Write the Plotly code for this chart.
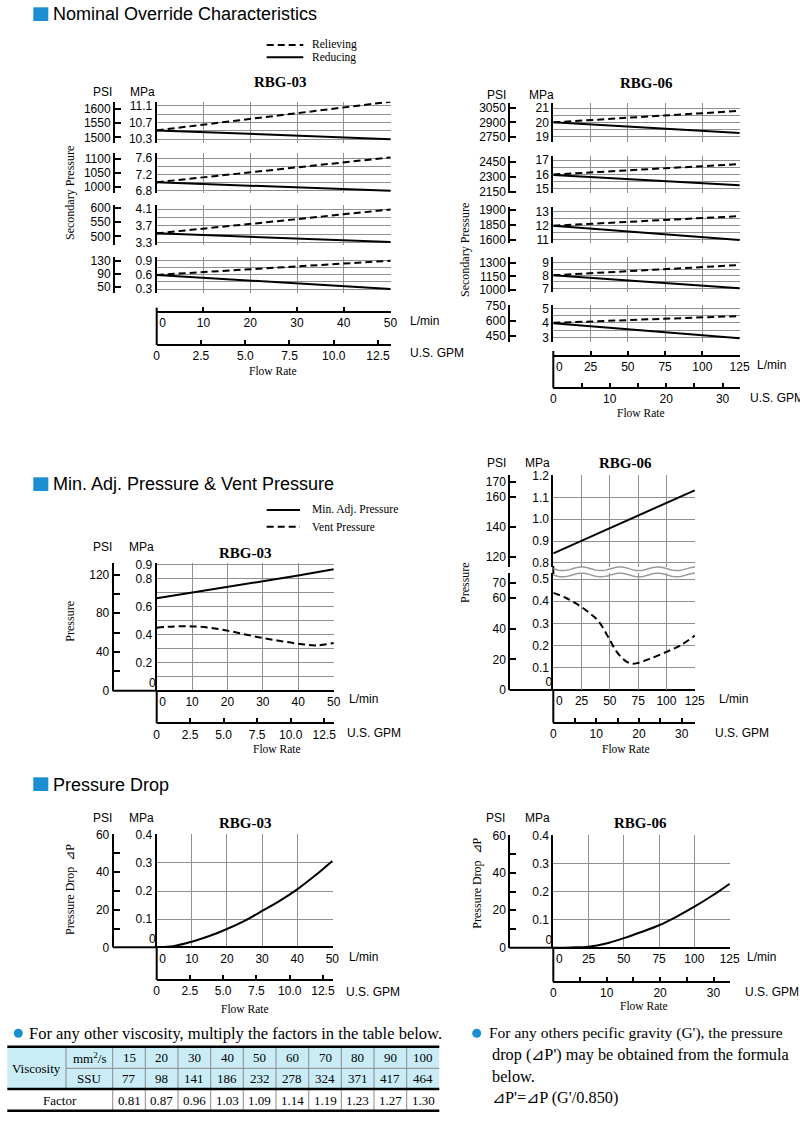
import numpy as np
import plotly.graph_objects as go

W, H = 800, 1131
PSI_PER_MPA = 145.038
LPM_PER_GPM = 3.78541

SANS = "Liberation Sans, Arial, sans-serif"
SERIF = "Liberation Serif, Times New Roman, serif"
BLUE = "#1b8fd2"
GRID = "#8f8f8f"
CYAN = "#c9ecf6"


def X(p):
    return p / W


def Y(p):
    return 1 - p / H


# ---------------- DATA ----------------
# Nominal override characteristics RBG-03 (MPa vs L/min), 4 pressure settings
no03_flow = [0, 10, 20, 30, 40, 50]
no03_relieving_1 = [10.51, 10.65, 10.79, 10.93, 11.06, 11.20]
no03_reducing_1 = [10.51, 10.47, 10.43, 10.38, 10.34, 10.30]
no03_relieving_2 = [7.01, 7.13, 7.25, 7.38, 7.50, 7.62]
no03_reducing_2 = [7.01, 6.97, 6.93, 6.88, 6.84, 6.80]
no03_relieving_3 = [3.52, 3.63, 3.75, 3.86, 3.98, 4.09]
no03_reducing_3 = [3.52, 3.48, 3.44, 3.39, 3.35, 3.31]
no03_relieving_4 = [0.60, 0.66, 0.72, 0.78, 0.84, 0.90]
no03_reducing_4 = [0.60, 0.54, 0.48, 0.42, 0.36, 0.30]
no03_grid = [[10.3, 10.5, 10.7, 10.9, 11.1], [6.8, 7.0, 7.2, 7.4, 7.6],
             [3.3, 3.5, 3.7, 3.9, 4.1], [0.3, 0.45, 0.6, 0.75, 0.9]]
no03_psi = [[1500, 1550, 1600], [1000, 1050, 1100], [500, 550, 600], [50, 90, 130]]

# Nominal override characteristics RBG-06, 5 pressure settings
no06_flow = [0, 25, 50, 75, 100, 125]
no06_relieving_1 = [20.00, 20.16, 20.32, 20.48, 20.64, 20.80]
no06_reducing_1 = [20.00, 19.85, 19.70, 19.55, 19.40, 19.25]
no06_relieving_2 = [16.00, 16.14, 16.29, 16.43, 16.58, 16.72]
no06_reducing_2 = [15.96, 15.82, 15.68, 15.53, 15.39, 15.25]
no06_relieving_3 = [12.00, 12.13, 12.27, 12.40, 12.54, 12.67]
no06_reducing_3 = [12.00, 11.80, 11.60, 11.40, 11.20, 11.00]
no06_relieving_4 = [8.02, 8.18, 8.34, 8.50, 8.66, 8.82]
no06_reducing_4 = [8.02, 7.82, 7.61, 7.41, 7.20, 7.00]
no06_relieving_5 = [4.00, 4.09, 4.18, 4.28, 4.37, 4.47]
no06_reducing_5 = [3.97, 3.76, 3.55, 3.35, 3.14, 2.93]
no06_grid = [[19, 19.5, 20, 20.5, 21], [15, 15.5, 16, 16.5, 17], [11, 11.5, 12, 12.5, 13],
             [7, 7.5, 8, 8.5, 9], [3, 3.5, 4, 4.5, 5]]
no06_psi = [[2750, 2900, 3050], [2150, 2300, 2450], [1600, 1750, 1900],
            [1000, 1150, 1300], [450, 600, 750]]
no06_psi_text = [["2750", "2900", "3050"], ["2150", "2300", "2450"], ["1600", "1850", "1900"],
                 ["1000", "1150", "1300"], ["450", "600", "750"]]

# Min. adj. pressure & vent pressure
ma03_flow = [0, 10, 20, 30, 40, 50]
ma03_min_adj = [0.658, 0.700, 0.740, 0.780, 0.820, 0.865]
ma03_vent_flow = [0, 5, 10, 15, 20, 25, 30, 35, 40, 45, 50]
ma03_vent = [0.449, 0.458, 0.458, 0.449, 0.428, 0.401, 0.375, 0.354, 0.335, 0.323, 0.340]

ma06_flow = [0, 25, 50, 75, 100, 125]
ma06_min_adj = [0.844, 0.902, 0.960, 1.017, 1.075, 1.132]
ma06_vent_flow = [0, 10, 20, 30, 40, 50, 55, 60, 65, 70, 75, 85, 100, 112, 125]
ma06_vent = [0.438, 0.418, 0.390, 0.355, 0.310, 0.225, 0.180, 0.148, 0.127, 0.118,
             0.122, 0.140, 0.172, 0.200, 0.245]

# Pressure drop
pd03_flow = [0, 5, 10, 15, 20, 25, 30, 35, 40, 45, 50]
pd03_dp = [0, 0.005, 0.020, 0.040, 0.065, 0.094, 0.129, 0.165, 0.206, 0.254, 0.307]
pd06_flow = [0, 12.5, 25, 37.5, 50, 62.5, 75, 87.5, 100, 112.5, 125]
pd06_dp = [0, 0.001, 0.0036, 0.015, 0.034, 0.056, 0.080, 0.111, 0.146, 0.185, 0.228]

# Viscosity table
visc_mm2s = [15, 20, 30, 40, 50, 60, 70, 80, 90, 100]
visc_ssu = [77, 98, 141, 186, 232, 278, 324, 371, 417, 464]
visc_factor = [0.81, 0.87, 0.96, 1.03, 1.09, 1.14, 1.19, 1.23, 1.27, 1.30]

lpm03_ticks = [0, 10, 20, 30, 40, 50]
lpm06_ticks = [0, 25, 50, 75, 100, 125]
gpm03_ticks = [0, 2.5, 5, 7.5, 10, 12.5]
gpm03_text = ["0", "2.5", "5.0", "7.5", "10.0", "12.5"]
gpm06_ticks = [0, 5, 10, 15, 20, 25, 30]
gpm06_text = ["0", "", "10", "", "20", "", "30"]

# ---------------- FIGURE ----------------
fig = go.Figure()
layout = {}
shapes = []
annotations = []
cnt = {"x": 0, "y": 0}
DASH = "7px,4px"


def new_axis(kind, **kw):
    cnt[kind] += 1
    n = cnt[kind]
    suffix = "" if n == 1 else str(n)
    base = dict(showgrid=False, zeroline=False, showline=False, ticks="", fixedrange=True,
                automargin=False, tickfont=dict(family=SANS, size=12, color="black"))
    base.update(kw)
    layout[f"{kind}axis{suffix}"] = base
    return f"{kind}{suffix}"


def dummy(xa, ya):
    fig.add_trace(go.Scatter(x=[], y=[], xaxis=xa, yaxis=ya, showlegend=False, hoverinfo="skip"))


def curve(x, y, xa, ya, dash="solid", shape="linear"):
    fig.add_trace(go.Scatter(x=x, y=y, xaxis=xa, yaxis=ya, mode="lines",
                             line=dict(color="black", width=2, dash=dash, shape=shape),
                             hoverinfo="skip", showlegend=False, cliponaxis=False))


def hline(x0, x1, y, color="black", width=2, dash="solid"):
    shapes.append(dict(type="line", xref="paper", yref="paper", x0=X(x0), x1=X(x1), y0=Y(y), y1=Y(y),
                       line=dict(color=color, width=width, dash=dash)))


def vline(x, y0, y1, color="black", width=2):
    shapes.append(dict(type="line", xref="paper", yref="paper", x0=X(x), x1=X(x), y0=Y(y0), y1=Y(y1),
                       line=dict(color=color, width=width)))


def text(t, x, y, size=12, family=SANS, xanchor="center", bold=False, angle=0, color="black"):
    if bold:
        t = f"<b>{t}</b>"
    annotations.append(dict(text=t, x=X(x), y=Y(y), xref="paper", yref="paper", showarrow=False,
                            xanchor=xanchor, yanchor="middle", textangle=angle,
                            font=dict(family=family, size=size, color=color)))


def fmt(v):
    return f"{v:g}"


def lpm_label(v):
    # the zero of the L/min scale sits just right of the vertical axis line
    return "\u2003" + "0" if v == 0 else str(v)


def chart(x0, x1, xmax, lpm_vals, lpm_y, lpm_ticks, gpm_y, gpm_vals, gpm_text, psi_x, panels):
    xl = new_axis("x", domain=[X(x0), X(x1)], range=[0, xmax * 1.002], anchor="free", position=Y(lpm_y),
                  tickvals=lpm_vals, ticktext=[lpm_label(v) for v in lpm_vals],
                  showgrid=True, gridcolor=GRID, gridwidth=1,
                  showline=True, linecolor="black", linewidth=2,
                  ticks="inside" if lpm_ticks else "", ticklen=4, tickwidth=1.5, tickcolor="black")
    ys = []
    for p in panels:
        zero_top = p.get("zero_top", False)
        gtext = [("" if (zero_top and v == 0) else t) for v, t in zip(p["grid"], p["gridtext"])]
        ym = new_axis("y", domain=[Y(p["bot"]), Y(p["top"])], range=p["rng"], anchor=xl,
                      tickvals=p["grid"], ticktext=gtext,
                      showgrid=True, gridcolor=GRID, gridwidth=1,
                      showline=True, linecolor="black", linewidth=2)
        if zero_top:
            # the "0" of the MPa scale is printed just above the bottom axis line
            yz = new_axis("y", overlaying=ym, anchor=xl, side="left", range=p["rng"],
                          tickvals=[0], ticktext=["0"], ticklabelposition="outside top")
            dummy(xl, yz)
        k = p.get("k", PSI_PER_MPA)
        yp = new_axis("y", overlaying=ym, anchor="free", position=X(psi_x), side="left",
                      range=[p["rng"][0] * k, p["rng"][1] * k],
                      tickvals=p["psi"], ticktext=p["psitext"],
                      showline=True, linecolor="black", linewidth=2,
                      ticks="inside", ticklen=6, tickwidth=1.5, tickcolor="black")
        dummy(xl, yp)
        for s in p["series"]:
            curve(s[0], s[1], xl, ym, dash=s[2], shape=s[3])
        ys.append(ym)
    xg = new_axis("x", overlaying=xl, anchor="free", position=Y(gpm_y), domain=[X(x0), X(x1)],
                  range=[0, xmax * 1.002 / LPM_PER_GPM], tickvals=gpm_vals, ticktext=gpm_text,
                  showline=True, linecolor="black", linewidth=2,
                  ticks="inside", ticklen=4, tickwidth=1.5, tickcolor="black")
    dummy(xg, ys[-1])


def alt_text(vals):
    return [fmt(v) if i % 2 == 0 else "" for i, v in enumerate(vals)]


# ---- Nominal override RBG-03 ----
no03_geo = [(101.7, 143.3, [10.2, 11.2]), (153.3, 193.3, [6.74, 7.72]),
            (205.0, 245.0, [3.24, 4.2]), (256.7, 293.3, [0.21, 0.985])]
no03_series = [(no03_relieving_1, no03_reducing_1), (no03_relieving_2, no03_reducing_2),
               (no03_relieving_3, no03_reducing_3), (no03_relieving_4, no03_reducing_4)]
panels = []
for i, (top, bot, rng) in enumerate(no03_geo):
    panels.append(dict(top=top, bot=bot, rng=rng, grid=no03_grid[i], gridtext=alt_text(no03_grid[i]),
                       psi=no03_psi[i], psitext=[str(v) for v in no03_psi[i]],
                       series=[(no03_flow, no03_series[i][0], DASH, "linear"),
                               (no03_flow, no03_series[i][1], "solid", "linear")]))
chart(156.7, 391, 50, lpm03_ticks, 311.7, True, 345, gpm03_ticks, gpm03_text, 114, panels)
vline(156.7, 307.7, 345)

# ---- Nominal override RBG-06 ----
no06_geo = [(103.0, 141.7, [18.65, 21.35]), (156.0, 193.3, [14.70, 17.28]),
            (206.7, 242.7, [10.81, 13.33]), (256.7, 291.7, [6.74, 9.47]),
            (305.0, 341.7, [2.70, 5.23])]
no06_series = [(no06_relieving_1, no06_reducing_1), (no06_relieving_2, no06_reducing_2),
               (no06_relieving_3, no06_reducing_3), (no06_relieving_4, no06_reducing_4),
               (no06_relieving_5, no06_reducing_5)]
panels = []
for i, (top, bot, rng) in enumerate(no06_geo):
    panels.append(dict(top=top, bot=bot, rng=rng, grid=no06_grid[i], gridtext=alt_text(no06_grid[i]),
                       psi=no06_psi[i], psitext=no06_psi_text[i],
                       series=[(no06_flow, no06_series[i][0], DASH, "linear"),
                               (no06_flow, no06_series[i][1], "solid", "linear")]))
chart(553.3, 740, 125, lpm06_ticks, 356, True, 388, gpm06_ticks, gpm06_text, 509.3, panels)
vline(553.3, 351, 388)

# ---- Min adj RBG-03 ----
ma03_grid = [0, 0.1, 0.2, 0.3, 0.4, 0.5, 0.6, 0.7, 0.8, 0.9]
ma03_gridtext = ["0", "", "0.2", "", "0.4", "", "0.6", "", "0.8", "0.9"]
ma03_psi = [0, 20, 40, 60, 80, 100, 120]
panels = [dict(top=562.7, bot=690.7, rng=[0, 0.912], grid=ma03_grid, gridtext=ma03_gridtext,
               psi=ma03_psi, psitext=alt_text(ma03_psi), zero_top=True,
               series=[(ma03_flow, ma03_min_adj, "solid", "linear"),
                       (ma03_vent_flow, ma03_vent, DASH, "spline")])]
chart(156.7, 334, 50, lpm03_ticks, 690.7, False, 723.3, gpm03_ticks, gpm03_text, 112.7, panels)
vline(156.7, 690.7, 723.3)
hline(112.7, 156.7, 690.7)

# ---- Min adj RBG-06 (broken axis) ----
ma06_grid_hi = [0.8, 0.9, 1.0, 1.1, 1.2]
ma06_grid_lo = [0, 0.1, 0.2, 0.3, 0.4, 0.5]
ma06_psi_hi = [120, 140, 160, 170]
ma06_psi_lo = [0, 20, 40, 60, 70]
panels = [dict(top=475.0, bot=566.7, rng=[0.783, 1.202], grid=ma06_grid_hi,
               gridtext=[f"{v:.1f}" for v in ma06_grid_hi],
               psi=ma06_psi_hi, psitext=[str(v) for v in ma06_psi_hi],
               series=[(ma06_flow, ma06_min_adj, "solid", "linear")]),
          dict(top=573.3, bot=690.0, rng=[0, 0.526], grid=ma06_grid_lo,
               gridtext=["0"] + [f"{v:.1f}" for v in ma06_grid_lo[1:]],
               psi=ma06_psi_lo, psitext=[str(v) for v in ma06_psi_lo], zero_top=True,
               series=[(ma06_vent_flow, ma06_vent, DASH, "spline")])]
chart(553.3, 695, 125, lpm06_ticks, 690.0, False, 722.7, gpm06_ticks, gpm06_text, 509.3, panels)
vline(553.3, 690.0, 722.7)
hline(509.3, 553.3, 690.0)
vline(553.3, 566.0, 574.0)


def wave_path(x0, x1, yc, amp, period):
    xs = np.linspace(x0, x1, 80)
    pts = [(X(x), Y(yc + amp * np.sin(2 * np.pi * (x - x0) / period))) for x in xs]
    return "M" + " L".join(f"{a:.5f},{b:.5f}" for a, b in pts)


for yc in (568.8, 575.0):
    shapes.append(dict(type="path", xref="paper", yref="paper", path=wave_path(553.3, 695, yc, 1.8, 38),
                       line=dict(color="#9a9a9a", width=1.5)))

# ---- Pressure drop ----
pd_grid = [0, 0.1, 0.2, 0.3, 0.4]
pd_psi = [0, 10, 20, 30, 40, 50, 60]
panels = [dict(top=834.3, bot=947.3, rng=[0, 0.4015], grid=pd_grid, gridtext=[fmt(v) for v in pd_grid],
               psi=pd_psi, psitext=alt_text(pd_psi), k=150, zero_top=True,
               series=[(pd03_flow, pd03_dp, "solid", "spline")])]
chart(156.7, 332.7, 50, lpm03_ticks, 947.3, False, 980, gpm03_ticks, gpm03_text, 112.7, panels)
vline(156.7, 947.3, 980)
hline(112.7, 156.7, 947.3)

panels = [dict(top=835.0, bot=947.7, rng=[0, 0.4015], grid=pd_grid, gridtext=[fmt(v) for v in pd_grid],
               psi=pd_psi, psitext=alt_text(pd_psi), k=150, zero_top=True,
               series=[(pd06_flow, pd06_dp, "solid", "spline")])]
chart(553.3, 730, 125, lpm06_ticks, 947.7, False, 981.7, gpm06_ticks, gpm06_text, 509.3, panels)
vline(553.3, 947.7, 981.7)
hline(509.3, 553.3, 947.7)

# ---------------- TEXT ----------------
# section headers
for ytop, label in [(7.3, "Nominal Override Characteristics"),
                    (477.3, "Min. Adj. Pressure & Vent Pressure"),
                    (777.3, "Pressure Drop")]:
    shapes.append(dict(type="rect", xref="paper", yref="paper", x0=X(33.3), x1=X(48.3),
                       y0=Y(ytop), y1=Y(ytop + 13.7), fillcolor=BLUE, line=dict(width=0)))
    text(label, 51, ytop + 7.2, size=18, family=SANS, xanchor="left")

# legends
hline(266.7, 303.3, 45, width=2, dash=DASH)
text("Relieving", 310, 45, size=11.5, family=SERIF, xanchor="left")
hline(266.7, 303.3, 57.3, width=2)
text("Reducing", 310, 57.3, size=11.5, family=SERIF, xanchor="left")
hline(266.7, 300, 510, width=2)
text("Min. Adj. Pressure", 310, 510, size=11.5, family=SERIF, xanchor="left")
hline(266.7, 300, 526.7, width=2, dash=DASH)
text("Vent Pressure", 310, 526.7, size=11.5, family=SERIF, xanchor="left")

# chart titles and unit labels
for t, tx, ty, px_, mx, uy in [("RBG-03", 280, 81.7, 102.7, 142, 92.3),
                               ("RBG-06", 646.7, 83.3, 496.7, 541.7, 95),
                               ("RBG-03", 245, 553.3, 102.7, 141.7, 547.3),
                               ("RBG-06", 625, 462.7, 496, 537.3, 462.7),
                               ("RBG-03", 245, 822.7, 102.7, 141.7, 818.3),
                               ("RBG-06", 640, 823.3, 495, 537.3, 818.3)]:
    text(t, tx, ty, size=15, family=SERIF, bold=True)
    text("PSI", px_, uy, size=12)
    text("MPa", mx, uy, size=12)

for lx, ly, gx, gy, fx, fy in [(408, 320.7, 408, 353.3, 273, 370.7),
                               (755, 365, 748, 398.3, 641, 413),
                               (346.7, 699.3, 345, 732.7, 277, 749),
                               (716.7, 699.3, 713.3, 733.3, 625.7, 749),
                               (346.7, 957.3, 344, 991.7, 245, 1009),
                               (745, 956.7, 743.3, 992.3, 644, 1006)]:
    text("L/min", lx, ly, size=12, xanchor="left")
    text("U.S. GPM", gx, gy, size=12, xanchor="left")
    text("Flow Rate", fx, fy, size=11.5, family=SERIF)

for t, x, y in [("Secondary Pressure", 70, 193), ("Secondary Pressure", 465, 250),
                ("Pressure", 70, 621.7), ("Pressure", 465, 583),
                ("Pressure Drop  ⊿P", 70, 890), ("Pressure Drop  ⊿P", 476.7, 883)]:
    text(t, x, y, size=12, family=SERIF, angle=-90)

# ---------------- NOTES & TABLE ----------------
for cx in (18.3, 476.7):
    shapes.append(dict(type="circle", xref="paper", yref="paper", x0=X(cx - 4.5), x1=X(cx + 4.5),
                       y0=Y(1033.3 - 4.5), y1=Y(1033.3 + 4.5), fillcolor=BLUE, line=dict(width=0)))
text("For any other viscosity, multiply the factors in the table below.", 26.7, 1033.3,
     size=16.5, family=SERIF, xanchor="left")
text("For any others pecific gravity (G'), the pressure", 487, 1033.3, size=15.5, family=SERIF, xanchor="left")
text("drop (⊿P') may be obtained from the formula", 490, 1054.3, size=16.3, family=SERIF, xanchor="left")
text("below.", 490, 1076, size=16.3, family=SERIF, xanchor="left")
text("⊿P'=⊿P (G'/0.850)", 490, 1097.3, size=16.3, family=SERIF, xanchor="left")

tx = [7.3, 66, 112.7, 145.3, 178, 210.7, 243.3, 276, 308.7, 341.3, 374, 406.7, 439.3]
t_top, t_mid, t_hdr, t_bot = 1046.7, 1068.3, 1089.0, 1110.7
shapes.append(dict(type="rect", xref="paper", yref="paper", x0=X(tx[0]), x1=X(tx[-1]),
                   y0=Y(t_hdr), y1=Y(t_top), fillcolor=CYAN, line=dict(width=0), layer="below"))
hline(tx[1], tx[-1], t_mid, color="#8a8a8a", width=1)
vline(tx[1], t_top, t_hdr, color="#8a8a8a", width=1)
for xv in tx[2:-1]:
    vline(xv, t_top, t_bot, color="#8a8a8a", width=1)
hline(tx[0], tx[-1], t_top, width=2.5)
hline(tx[0], tx[-1], t_hdr, width=2.5)
hline(tx[0], tx[-1], t_bot, width=2.5)

text("Viscosity", (tx[0] + tx[1]) / 2, 1068.5, size=13, family=SERIF)
text("mm<sup>2</sup>/s", (tx[1] + tx[2]) / 2, 1057.8, size=13, family=SERIF)
text("SSU", (tx[1] + tx[2]) / 2, 1078.5, size=13, family=SERIF)
text("Factor", (tx[0] + tx[2]) / 2, 1100, size=13, family=SERIF)
for i in range(len(visc_mm2s)):
    cx = (tx[i + 2] + tx[i + 3]) / 2
    text(str(visc_mm2s[i]), cx, 1057.8, size=13, family=SERIF)
    text(str(visc_ssu[i]), cx, 1078.5, size=13, family=SERIF)
    text(f"{visc_factor[i]:.2f}", cx, 1100, size=13, family=SERIF)

layout.update(dict(width=W, height=H, autosize=False,
                   margin=dict(l=0, r=0, t=0, b=0, pad=0, autoexpand=False),
                   paper_bgcolor="white", plot_bgcolor="rgba(0,0,0,0)", showlegend=False,
                   hovermode=False, shapes=shapes, annotations=annotations))
fig.update_layout(**layout)
fig.write_html(
    "out.html",
    config={"displayModeBar": False},
    post_script="document.documentElement.style.margin='0';document.body.style.margin='0';"
                "document.body.style.padding='0';document.documentElement.style.overflow='hidden';"
                "document.body.style.overflow='hidden';",
)
